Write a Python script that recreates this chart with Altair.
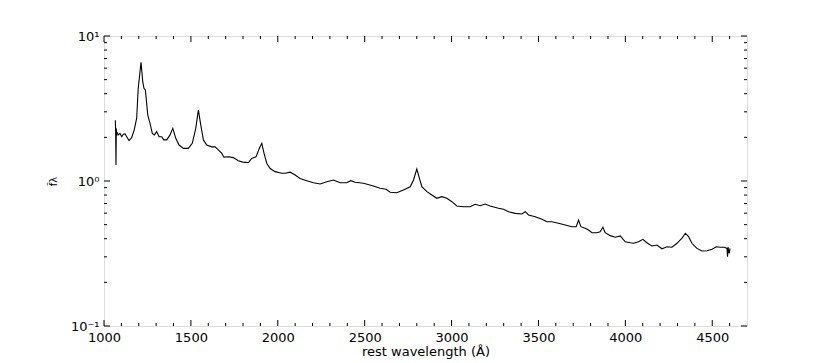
import altair as alt
import pandas as pd

# Rest wavelength (Angstrom) and normalised flux
wavelength = [
    1065, 1067, 1069, 1071, 1073, 1076, 1084, 1092, 1102, 1111,
    1121, 1131, 1144, 1159, 1174, 1188, 1197, 1213, 1223, 1230,
    1238, 1252, 1265, 1278, 1290, 1303, 1317, 1332, 1344, 1361,
    1380, 1396, 1413, 1432, 1457, 1485, 1508, 1528, 1543, 1557,
    1572, 1591, 1620, 1639, 1658, 1678, 1690, 1716, 1744, 1773,
    1798, 1831, 1850, 1875, 1894, 1908, 1921, 1937, 1956, 1984,
    2023, 2042, 2071, 2100, 2128, 2167, 2205, 2244, 2282, 2320,
    2330, 2359, 2397, 2420, 2445, 2493, 2550, 2589, 2623, 2647,
    2685, 2723, 2762, 2781, 2800, 2815, 2829, 2858, 2887, 2915,
    2944, 2973, 3002, 3030, 3068, 3107, 3136, 3165, 3193, 3222,
    3270, 3299, 3328, 3366, 3405, 3424, 3443, 3481, 3520, 3549,
    3577, 3615, 3654, 3693, 3717, 3731, 3744, 3769, 3788, 3808,
    3836, 3855, 3871, 3884, 3913, 3942, 3971, 3999, 4028, 4047,
    4076, 4101, 4124, 4153, 4182, 4211, 4239, 4268, 4297, 4326,
    4345, 4364, 4383, 4412, 4441, 4470, 4499, 4524, 4547, 4570,
    4585, 4588, 4591, 4594, 4598, 4602,
]
flux = [
    2.62, 2.25, 1.29, 2.30, 2.05, 2.15, 2.08, 2.13, 2.02, 2.10,
    2.11, 2.02, 1.90, 1.99, 2.25, 2.71, 4.36, 6.59, 4.84, 4.36,
    4.24, 2.85, 2.50, 2.13, 2.08, 2.19, 2.02, 2.02, 1.92, 1.92,
    2.08, 2.31, 1.97, 1.77, 1.68, 1.68, 1.82, 2.31, 3.09, 2.43,
    1.92, 1.77, 1.72, 1.72, 1.64, 1.55, 1.46, 1.47, 1.45, 1.38,
    1.35, 1.34, 1.43, 1.47, 1.68, 1.82, 1.55, 1.32, 1.22, 1.16,
    1.13, 1.13, 1.15, 1.10, 1.04, 1.005, 0.973, 0.953, 0.989, 1.016,
    1.005, 0.973, 0.973, 1.005, 0.98, 0.964, 0.924, 0.891, 0.877, 0.836,
    0.83, 0.867, 0.913, 1.016, 1.21, 1.044, 0.913, 0.844, 0.80, 0.76,
    0.78, 0.76, 0.72, 0.673, 0.665, 0.665, 0.691, 0.676, 0.694, 0.673,
    0.648, 0.638, 0.614, 0.598, 0.592, 0.614, 0.583, 0.567, 0.544, 0.524,
    0.524, 0.511, 0.497, 0.484, 0.484, 0.538, 0.484, 0.472, 0.459, 0.440,
    0.44, 0.447, 0.480, 0.44, 0.42, 0.409, 0.418, 0.381, 0.375, 0.372,
    0.381, 0.396, 0.375, 0.356, 0.362, 0.341, 0.352, 0.349, 0.372, 0.403,
    0.436, 0.413, 0.372, 0.343, 0.329, 0.33, 0.338, 0.352, 0.349, 0.349,
    0.343, 0.30, 0.35, 0.33, 0.317, 0.343,
]

x_major = [1000, 1500, 2000, 2500, 3000, 3500, 4000, 4500]
x_minor = [v for v in range(1100, 4700, 100) if v % 500 != 0]
y_major = [0.1, 1, 10]
y_minor = [0.2, 0.3, 0.4, 0.5, 0.6, 0.7, 0.8, 0.9, 2, 3, 4, 5, 6, 7, 8, 9]

W, H = 643, 290
FONT = "DejaVu Sans"

spec = pd.DataFrame({"wavelength": wavelength, "flux": flux})
xmaj = pd.DataFrame({"wavelength": x_major})
xmin = pd.DataFrame({"wavelength": x_minor})
ymaj = pd.DataFrame({"flux": y_major})
ymin = pd.DataFrame({"flux": y_minor})

xscale = alt.Scale(domain=[1000, 4700], nice=False, zero=False)
yscale = alt.Scale(type="log", domain=[0.1, 10], nice=False)

line = alt.Chart(spec).mark_line(color="black", strokeWidth=1.1).encode(
    x=alt.X(
        "wavelength:Q",
        scale=xscale,
        title="rest wavelength (Å)",
        axis=alt.Axis(
            values=x_major, format="d", ticks=False, tickSize=0, domain=False,
            grid=False, labelFont=FONT, labelFontSize=13, labelColor="black",
            labelPadding=5, labelFlush=False, labelOverlap=False,
            titleFont=FONT, titleFontSize=13, titleFontWeight="normal",
            titleColor="black", titlePadding=1,
        ),
    ),
    y=alt.Y(
        "flux:Q",
        scale=yscale,
        title="f̃λ",
        axis=alt.Axis(
            values=y_major, ticks=False, tickSize=0, domain=False, grid=False,
            labelExpr="datum.value >= 5 ? '10¹' : (datum.value >= 0.5 ? '10⁰' : '10⁻¹')",
            labelFont=FONT, labelFontSize=13, labelColor="black", labelPadding=5,
            labelFlush=False, labelOverlap=False,
            titleFont=FONT, titleFontSize=10, titleFontWeight="normal",
            titleColor="black", titlePadding=12,
        ),
    ),
)

def xticks(df, y0, y1):
    return alt.Chart(df).mark_rule(color="black", strokeWidth=1).encode(
        x=alt.X("wavelength:Q", scale=xscale),
        y=alt.value(y0), y2=alt.value(y1),
    )

def yticks(df, x0, x1):
    return alt.Chart(df).mark_rule(color="black", strokeWidth=1).encode(
        y=alt.Y("flux:Q", scale=yscale),
        x=alt.value(x0), x2=alt.value(x1),
    )

layers = [
    line,
    xticks(xmaj, H, H - 6), xticks(xmin, H, H - 3),
    xticks(xmaj, 0, 6), xticks(xmin, 0, 3),
    yticks(ymaj, 0, 6), yticks(ymin, 0, 3),
    yticks(ymaj, W, W - 6), yticks(ymin, W, W - 3),
]

chart = alt.layer(*layers).properties(
    width=W, height=H,
    autosize="none",
    padding={"left": 96, "top": 28, "right": 70, "bottom": 40},
).configure_view(
    stroke="black", strokeWidth=1,
).configure(background="white")

chart.save("out.html", embed_options={"renderer": "svg", "actions": False})
